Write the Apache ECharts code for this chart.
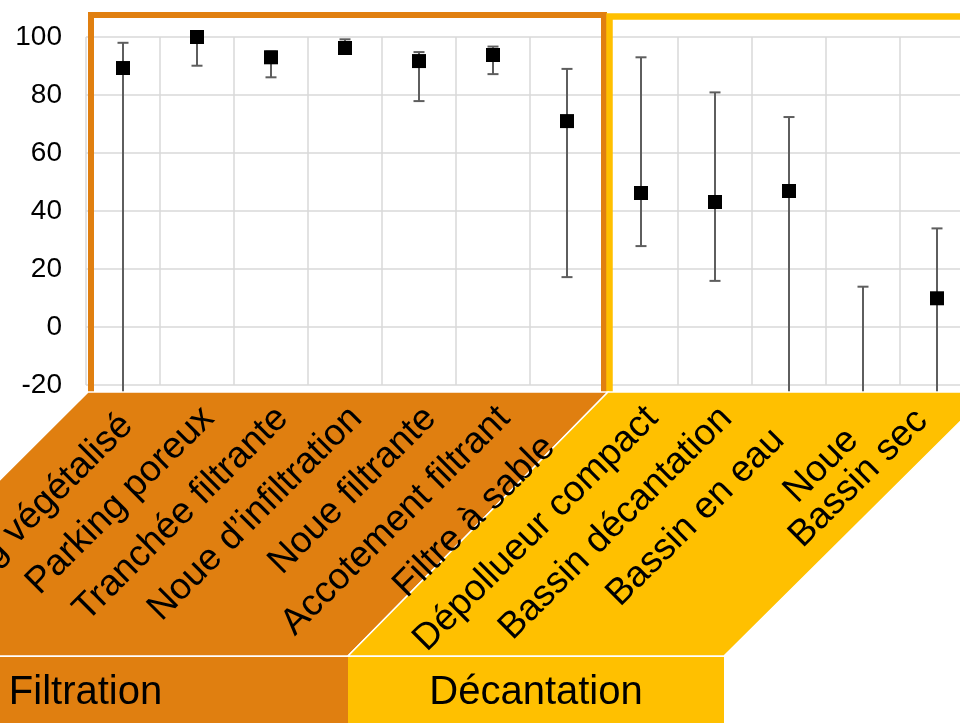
<!DOCTYPE html>
<html>
<head>
<meta charset="utf-8">
<script src="https://cdn.jsdelivr.net/npm/echarts@6/dist/echarts.min.js"></script>
<style>
html,body{margin:0;padding:0;background:#fff;}
#main{width:960px;height:723px;}
</style>
</head>
<body>
<div id="main"></div>
<script>
// ---- data ----
const categories = ['Parking végétalisé','Parking poreux','Tranchée filtrante','Noue d’infiltration','Noue filtrante','Accotement filtrant','Filtre à sable','Dépollueur compact','Bassin décantation','Bassin en eau','Noue','Bassin sec'];
const meanValues  = [89.3, 100, 93, 96.2, 91.7, 93.8, 71, 46.2, 43.1, 46.9, -30, 9.9];
const lowerValues = [-30, 90.1, 86.1, 95, 77.9, 87.2, 17.2, 27.9, 15.9, -30, -30, -30];
const upperValues = [98, 100, 95, 99.2, 94.8, 96.7, 89, 93, 80.9, 72.4, 13.9, 34];
const yTickLabels = ['-20','0','20','40','60','80','100'];
const groupNames = ['Filtration','Décantation'];

// ---- layout / style ----
const labelTrail = [1,0,0,0,0,0,4,0,0,3,3,2];
const ORANGE = '#E07F10', YELLOW = '#FFC000', GRID = '#D9D9D9';
const FONT = '"Liberation Sans", Arial, sans-serif';

const chart = echarts.init(document.getElementById('main'), null, {renderer:'canvas'});

function renderErr(params, api){
  const x = api.value(0), lo = api.value(1), hi = api.value(2);
  const a = api.coord([x, hi]), b = api.coord([x, lo]);
  const h = 5.5;
  const st = {stroke:'#5E5E5E', lineWidth:2};
  return {type:'group', children:[
    {type:'line', shape:{x1:a[0],y1:a[1],x2:b[0],y2:b[1]}, style:st},
    {type:'line', shape:{x1:a[0]-h,y1:a[1],x2:a[0]+h,y2:a[1]}, style:st},
    {type:'line', shape:{x1:b[0]-h,y1:b[1],x2:b[0]+h,y2:b[1]}, style:st}
  ]};
}

const errData = categories.map((c,i)=>[i, lowerValues[i], upperValues[i]]);
const lastIdx = categories.length - 1;

const option = {
  animation:false,
  backgroundColor:'#fff',
  grid:{left:86, top:37, width:888, height:348, containLabel:false, outerBoundsMode:'none'},
  xAxis:[
    {type:'category', data:categories, boundaryGap:true, z:0,
     axisLine:{show:false}, axisTick:{show:false}, axisLabel:{show:false},
     splitLine:{show:true, interval:0, lineStyle:{color:GRID, width:1.5}}},
    {type:'category', data:categories, boundaryGap:true, position:'bottom', z:300,
     axisLine:{show:false}, axisTick:{show:false}, splitLine:{show:false},
     axisLabel:{show:true, interval:0, rotate:45, fontSize:37, color:'#000', fontFamily:FONT,
       align:'right', verticalAlign:'top', lineHeight:48, margin:5, padding:[0,8,0,0],
       formatter:(v,i)=> {
         const t = v + '\u00a0'.repeat(labelTrail[i]);
         return i === lastIdx ? '{e|' + t + '}' : t;
       },
       rich:{e:{fontSize:37, fontFamily:FONT, color:'#000', lineHeight:14}}}}
  ],
  yAxis:{type:'value', min:-20, max:100, interval:20,
    axisLine:{show:false}, axisTick:{show:false},
    axisLabel:{fontSize:28, color:'#000', fontFamily:FONT, margin:24,
      formatter:(v)=> yTickLabels[Math.round((v+20)/20)]},
    splitLine:{show:true, lineStyle:{color:GRID, width:1.5}}},
  series:[
    {type:'custom', xAxisIndex:0, renderItem:renderErr, data:errData, z:3, clip:false},
    {type:'scatter', xAxisIndex:0, data:meanValues, symbol:'rect', symbolSize:14,
     itemStyle:{color:'#000', opacity:1}, z:4, clip:true}
  ],
  graphic:[
    // boxes
    {type:'polyline', z:100, shape:{points:[[91,394],[91,15],[604,15],[604,394]]},
     style:{stroke:ORANGE, lineWidth:6, fill:null}},
    {type:'polyline', z:100, shape:{points:[[609.5,394],[609.5,16.5],[990,16.5]]},
     style:{stroke:YELLOW, lineWidth:6.5, fill:null}},
    // bands
    {type:'polygon', z:110, shape:{points:[[88,392],[608,392],[348,656],[-177,656]]},
     style:{fill:ORANGE, stroke:'#fff', lineWidth:1.5}},
    {type:'polygon', z:111, shape:{points:[[608,392],[990,392],[724,656],[348,656]]},
     style:{fill:YELLOW, stroke:'#fff', lineWidth:1.5}},
    {type:'rect', z:110, shape:{x:-177, y:657, width:525, height:70}, style:{fill:ORANGE}},
    {type:'rect', z:110, shape:{x:348, y:657, width:376, height:70}, style:{fill:YELLOW}},
    {type:'text', z:120, x:85.5, y:693, style:{text:groupNames[0], font:'40px '+FONT, fill:'#000', align:'center', verticalAlign:'middle'}},
    {type:'text', z:120, x:536, y:693, style:{text:groupNames[1], font:'40px '+FONT, fill:'#000', align:'center', verticalAlign:'middle'}}
  ]
};
chart.setOption(option);
</script>
</body>
</html>
